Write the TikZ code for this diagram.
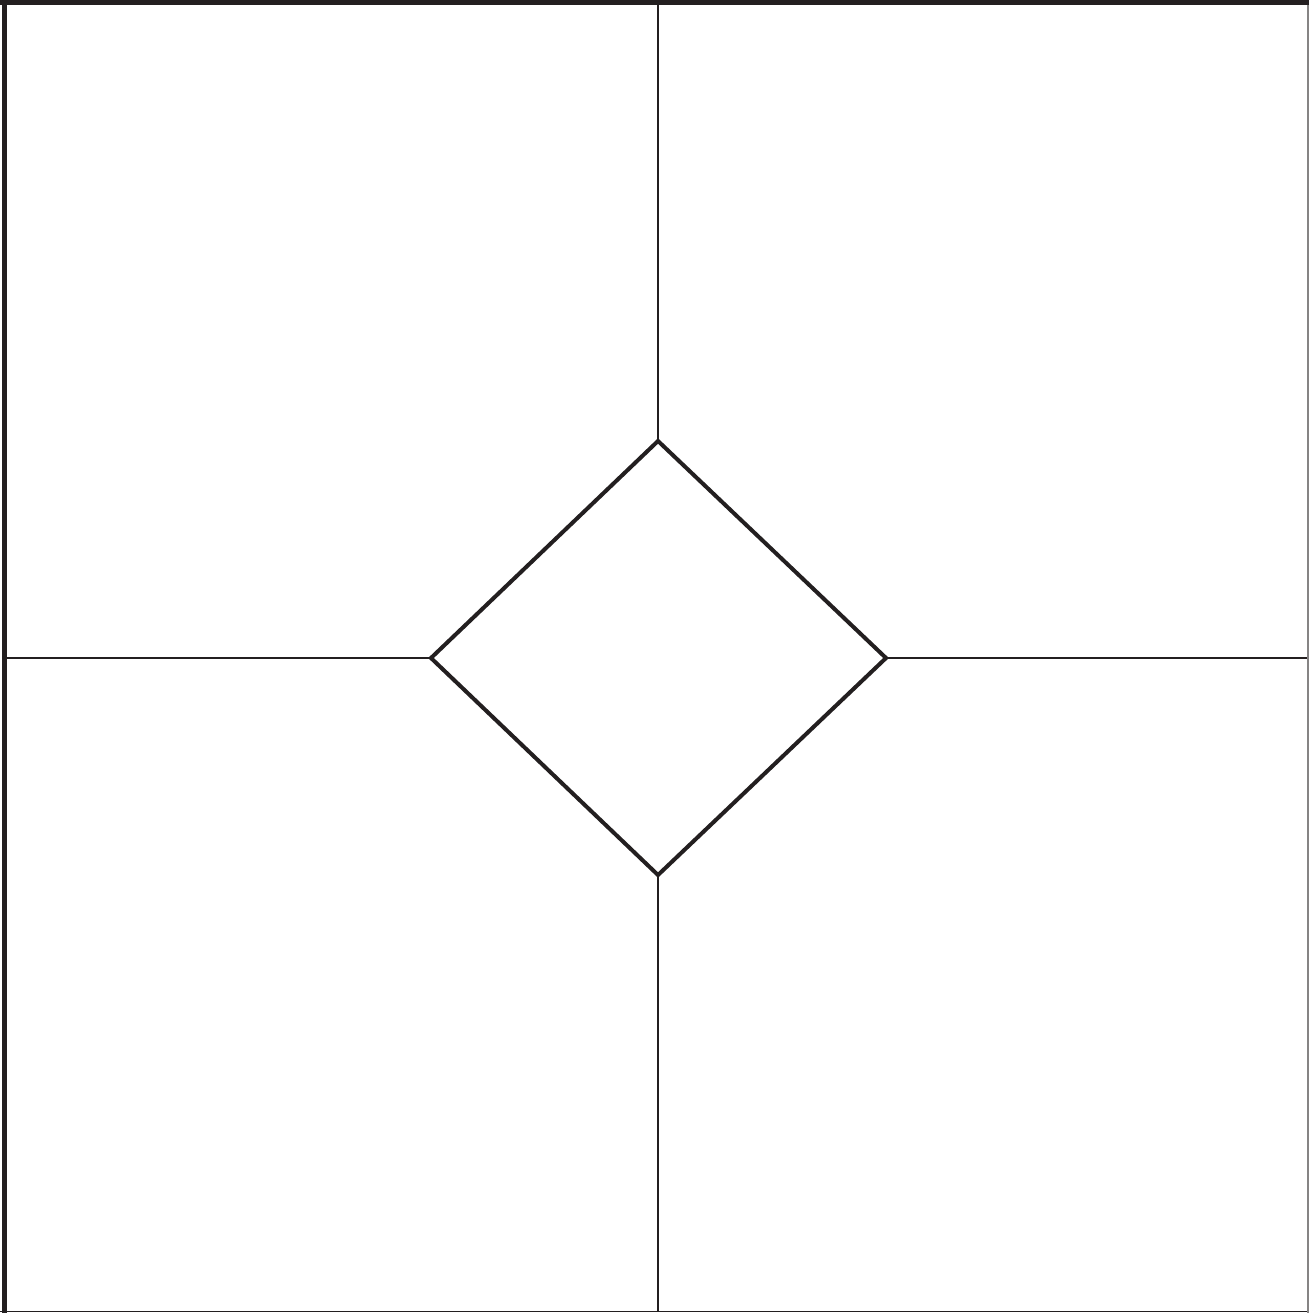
\documentclass[tikz,border=0pt]{standalone}
\definecolor{ink}{HTML}{231F20}
\begin{document}
\begin{tikzpicture}[x=1pt,y=-1pt,
  frame/.style={draw=ink,line width=5pt},
  thinedge/.style={draw=ink,line width=1.2pt},
  divider/.style={draw=ink,line width=2.6pt},
  diam/.style={draw=ink,line width=4pt,line join=miter}]
\useasboundingbox (0,0) rectangle (1309,1313);
\fill[white] (0,0) rectangle (1309,1313);
\coordinate (dt) at (658,441);
\coordinate (dl) at (431,658);
\coordinate (dr) at (886,658);
\coordinate (db) at (658,875);
\coordinate (tm) at (658,5);
\coordinate (bm) at (658,1311.5);
\coordinate (lm) at (7,658);
\coordinate (rm) at (1308,658);
% dividers
\draw[divider] (tm) -- (dt);
\draw[divider] (db) -- (bm);
\draw[divider] (lm) -- (dl);
\draw[divider] (dr) -- (rm);
% diamond
\draw[diam] (dt) -- (dr) -- (db) -- (dl) -- cycle;
% outer frame
\draw[thinedge] (0,1311.8) -- (1309,1311.8);
\draw[draw=ink!55,line width=1.2pt] (1308,0) -- (1308,1313);
\draw[frame] (0,2.5) -- (1309,2.5);
\draw[frame] (4.5,0) -- (4.5,1313);
\end{tikzpicture}
\end{document}
